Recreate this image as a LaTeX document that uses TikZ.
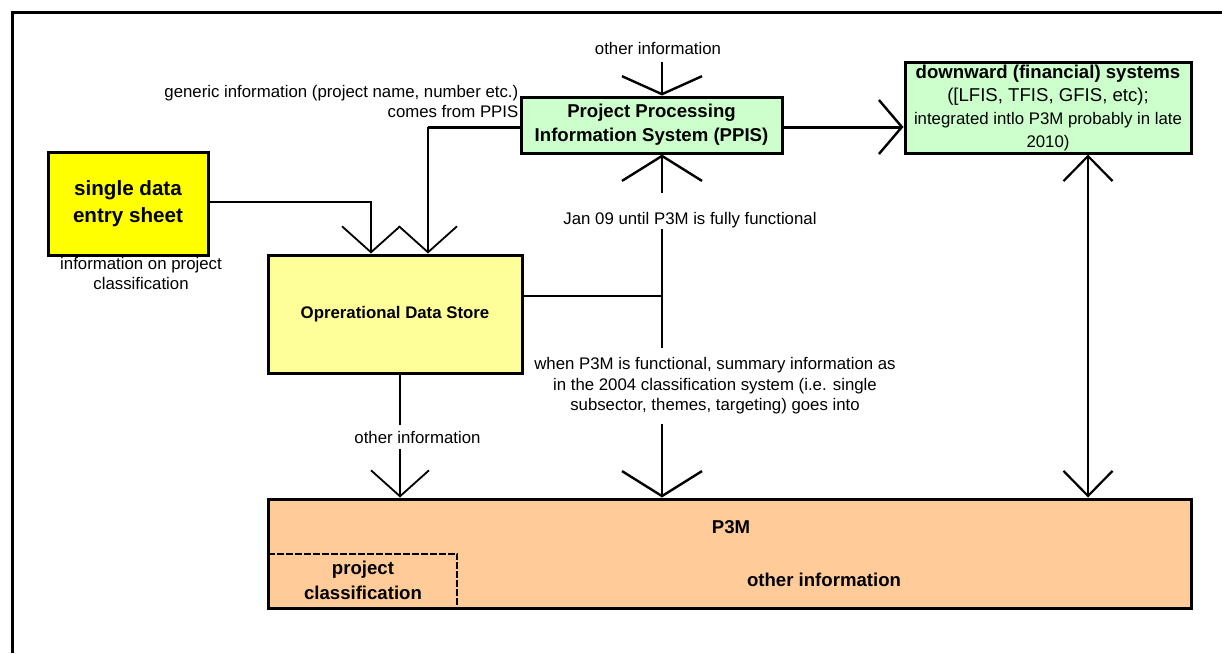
\documentclass[tikz,border=0pt]{standalone}
\usepackage{fontspec}
\setmainfont{Liberation Sans}
\usetikzlibrary{arrows.meta}
\definecolor{sdyellow}{HTML}{FFFF00}
\definecolor{odsyellow}{HTML}{FFFF99}
\definecolor{ppisgreen}{HTML}{CCFFCC}
\definecolor{pthreeorange}{HTML}{FFCC99}
\newcommand\fsreg{\fontsize{16.8pt}{20.5pt}\selectfont}
\newcommand\fsmid{\fontsize{18.6pt}{23pt}\selectfont}
\newcommand\fsppis{\fontsize{18.6pt}{24pt}\selectfont}
\newcommand\fsbig{\fontsize{20.6pt}{27pt}\selectfont}
\newcommand\fspc{\fontsize{18.6pt}{25pt}\selectfont}
\begin{document}
\begin{tikzpicture}[x=1pt,y=-1pt,
  box/.style={draw=black, line width=3pt, inner sep=0pt, align=center},
  lab/.style={font=\fsreg, align=center, inner sep=0pt},
  blab/.style={font=\fsmid\bfseries, align=center, inner sep=0pt},
  gaplab/.style={lab, fill=white, inner xsep=3pt},
  thinline/.style={line width=1.6pt},
  thickline/.style={line width=3pt},
  odstip/.tip={Straight Barb[length=26pt,width=58pt,line width=1.8pt]},
  midtip/.tip={Straight Barb[length=25pt,width=80pt,line width=2.4pt]},
  toptip/.tip={Straight Barb[length=18pt,width=80pt,line width=2.4pt]},
  dstip/.tip={Straight Barb[length=23pt,width=54pt,line width=2.4pt]},
  vtip/.tip={Straight Barb[length=25pt,width=49pt,line width=2.2pt]},
  pcdash/.style={line width=2pt, dash pattern=on 7pt off 2pt}
]
\useasboundingbox (0,0) rectangle (1222,653);
% outer frame (cut by the picture edge)
\draw[line width=3pt] (12,653) -- (12,12) -- (1222,12);

% boxes
\node[box, fill=sdyellow, minimum width=160pt, minimum height=103pt, font=\fsbig\bfseries]
  (sdes) at (128,203.5) {single data\\entry sheet};
\node[box, fill=odsyellow, minimum width=254pt, minimum height=118pt, font=\fsreg\bfseries]
  (ods) at (395,314) {Oprerational Data Store};
\node[box, fill=ppisgreen, minimum width=261pt, minimum height=56pt, font=\fsppis\bfseries]
  (ppis) at (651.5,125) {Project Processing\\Information System (PPIS)};
\node[box, fill=ppisgreen, minimum width=286pt, minimum height=91pt, font=\fsmid]
  (ds) at (1048,107.5) {{\bfseries downward (financial) systems}\\([LFIS, TFIS, GFIS, etc);\\{\fsreg integrated intlo P3M probably in late}\\{\fsreg 2010)}};
\node[box, fill=pthreeorange, minimum width=923pt, minimum height=109pt]
  (p3m) at (729.5,553.5) {};
\node[inner sep=0pt, minimum width=189pt, minimum height=54pt] (pc) at (362.5,581) {};
\draw[pcdash] (pc.north west) -- (pc.north east) -- (pc.south east);
\node[blab, anchor=base] (p3mt) at (731,533.5) {P3M};
\node[blab, anchor=base] (p3mo) at (824,586) {other information};
\node[font=\fspc\bfseries, align=center, inner sep=0pt, anchor=south] (pct) at (363,600) {project\\classification};

% free labels
\node[lab, anchor=base, outer sep=8pt] (oi) at (658,54) {other information};
\node[lab, align=right, anchor=south east] (gen) at (518.5,118) {generic information (project name, number etc.)\\comes from PPIS};
\node[lab, anchor=south] (iop) at (141,290) {information on project\\classification};

% helper coordinates
\coordinate (j) at (662,296);
\coordinate (xa) at (371,0);
\coordinate (xb) at (428,0);
\coordinate (xc) at (400,0);
\coordinate (xd) at (1088,0);

% connectors
\draw[thinline, -odstip] ([yshift=1.5pt]sdes.east) -| (ods.north -| xa);
\draw[thickline] ([yshift=-2pt]ppis.west) -- ([yshift=-2pt]ppis.west -| xb);
\draw[thinline, -odstip] ([yshift=-2pt]ppis.west -| xb) -- (ods.north -| xb);
\draw[thickline, -dstip] ([yshift=-2pt]ppis.east) -- ([yshift=-2pt]ppis.east -| ds.west);
\draw[thinline, -toptip] (oi.south -| j) -- (ppis.north -| j);
\draw[thinline, midtip-midtip] (ppis.south -| j) -- (p3m.north -| j);
\draw[thinline] (ods.east |- j) -- (j);
\draw[thinline, -odstip] (ods.south -| xc) -- (p3m.north -| xc);
\draw[thinline, vtip-vtip] (ds.south -| xd) -- (p3m.north -| xd);

% labels that interrupt connectors
\node[gaplab, anchor=base, inner ysep=0pt, text height=31pt, text depth=5pt]
  (jan) at (690,224) {Jan 09 until P3M is fully functional};
\node[gaplab, inner ysep=9.5pt] (when) at (715,386)
  {when P3M is functional, summary information as\\in the 2004 classification system (i.e. single\\subsector, themes, targeting) goes into};
\node[gaplab, anchor=base, inner ysep=0pt, text height=18pt, text depth=6pt]
  (odsoi) at (417.5,443) {other information};
\end{tikzpicture}
\end{document}
